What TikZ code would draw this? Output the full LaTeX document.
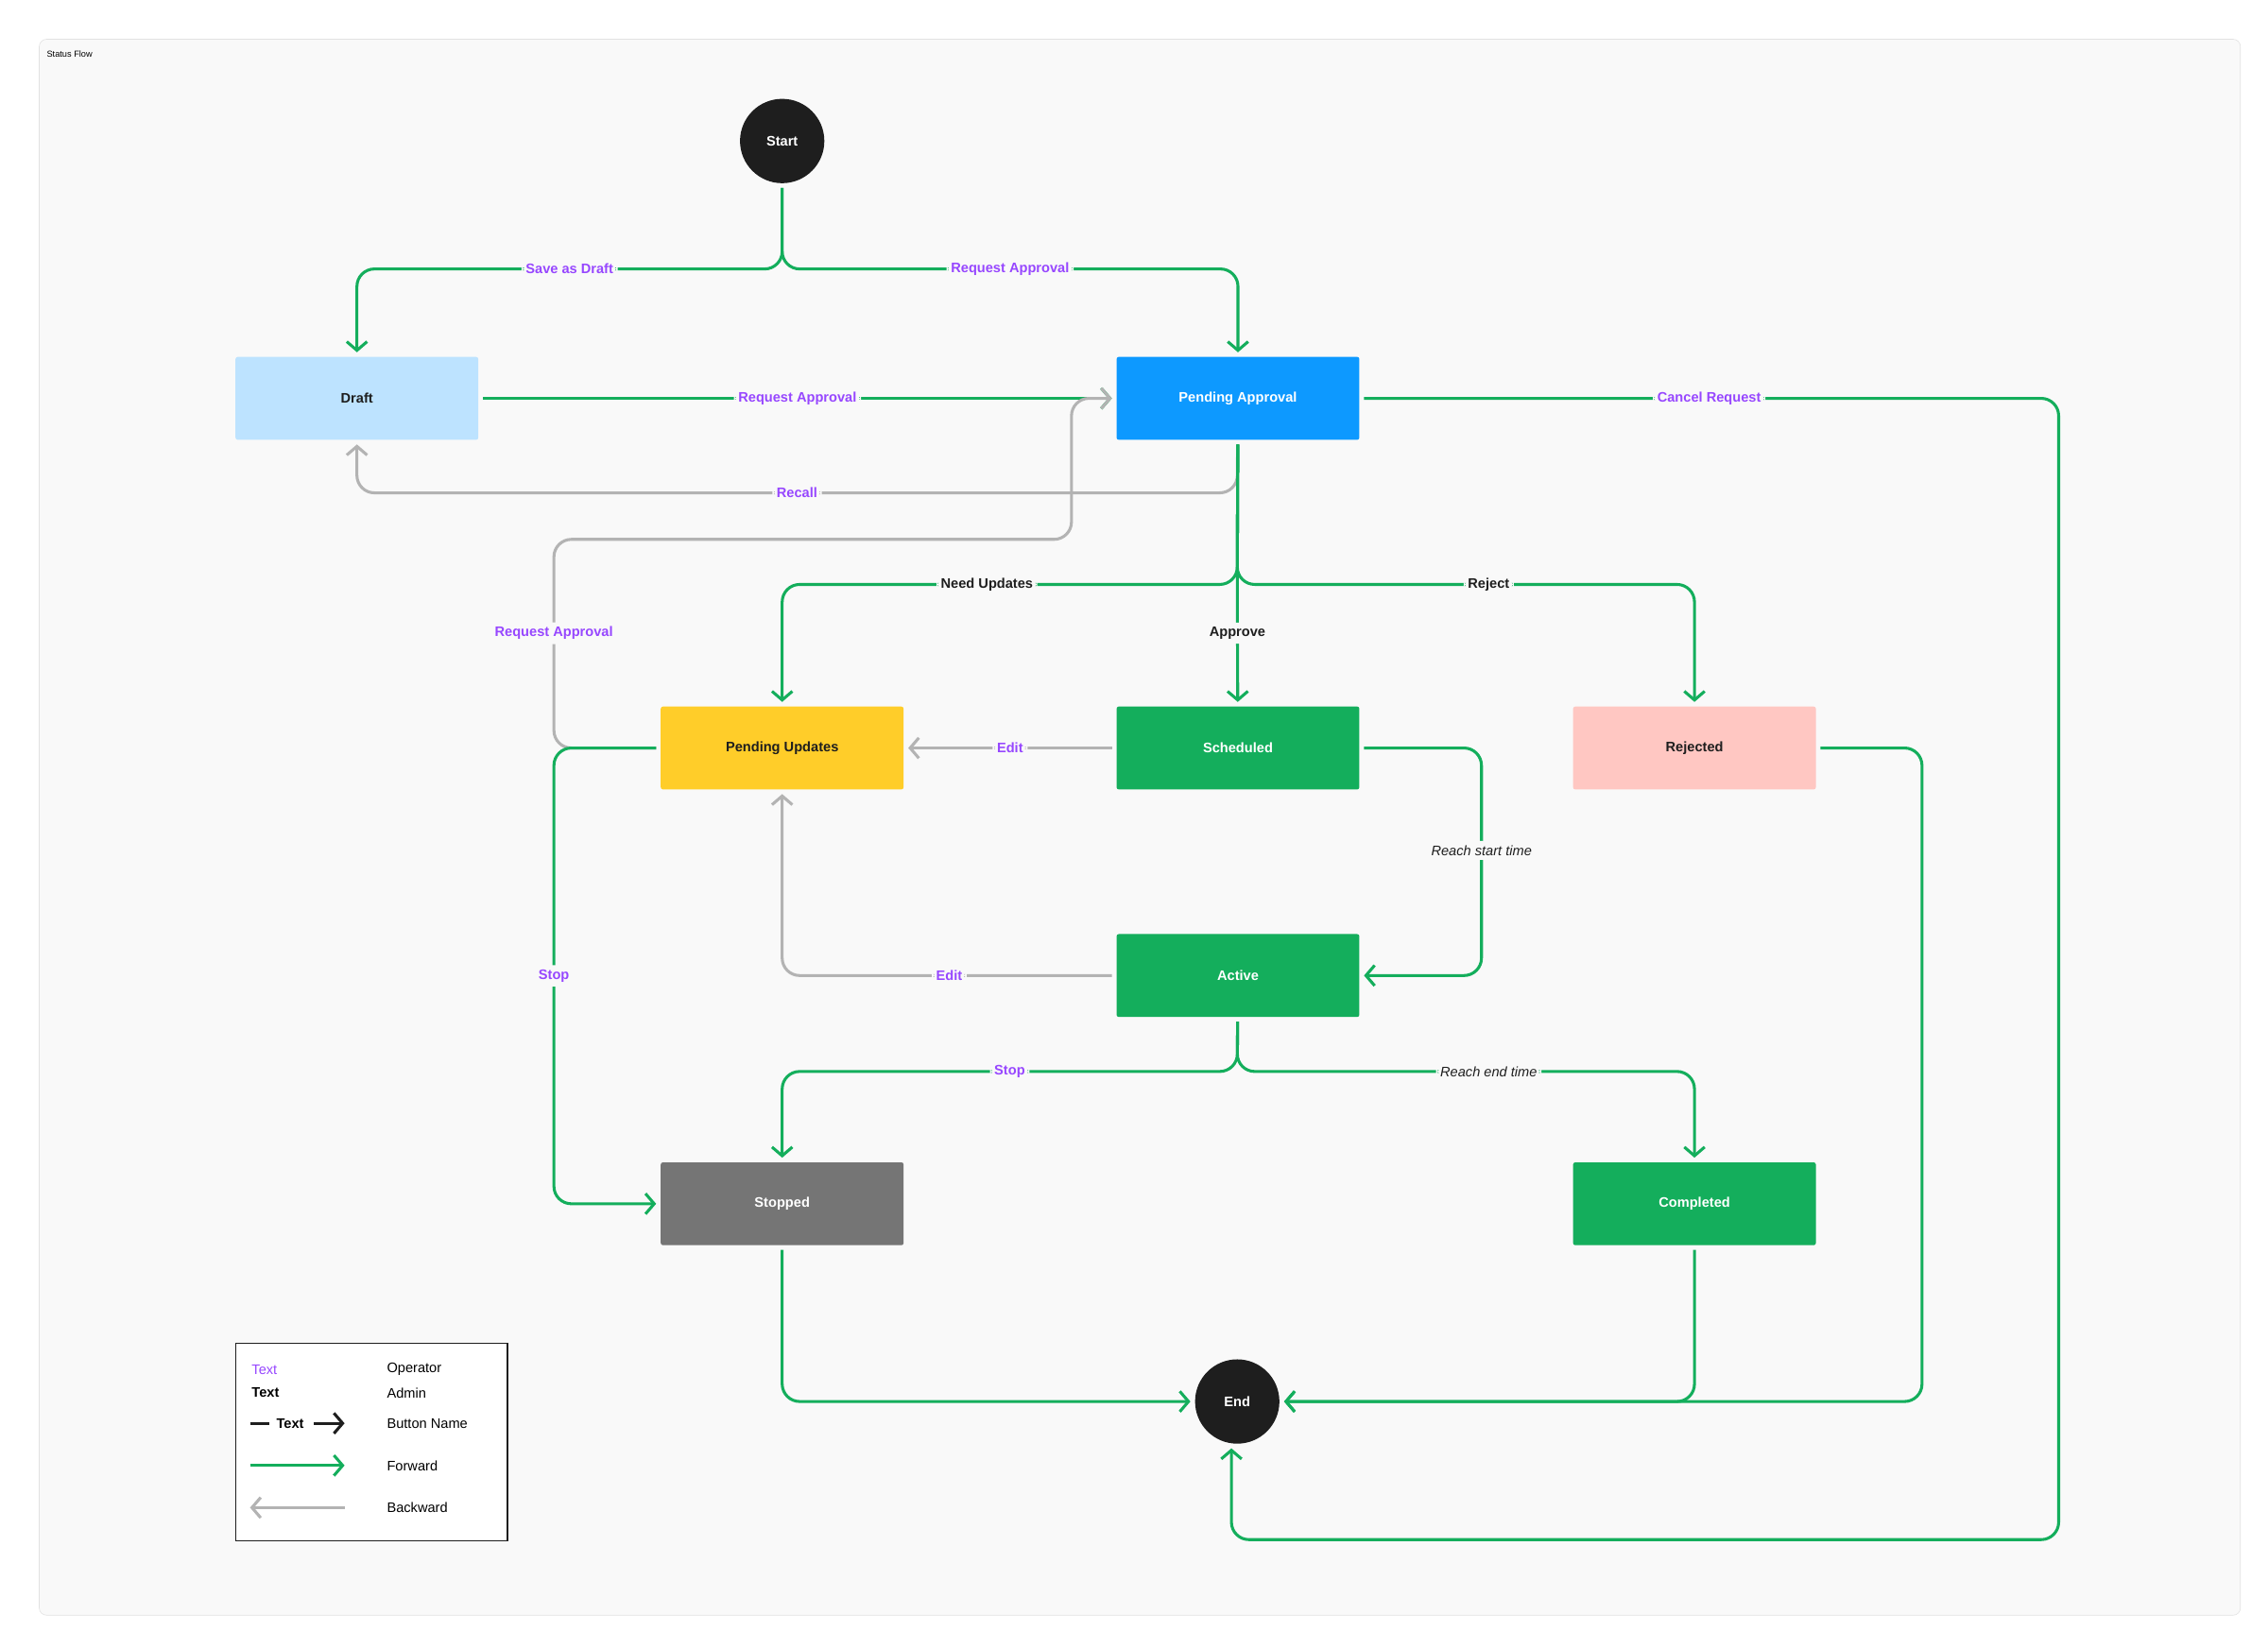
\documentclass[tikz,border=0pt]{standalone}
\usepackage{fontspec}
\setmainfont{Liberation Sans}
\usetikzlibrary{arrows.meta}
\usetikzlibrary{positioning}
\definecolor{bg}{HTML}{F9F9F9}
\definecolor{frm}{HTML}{E2E2E2}
\definecolor{dark}{HTML}{1E1E1E}
\definecolor{fgreen}{HTML}{14AE5C}
\definecolor{lgray}{HTML}{B3B3B3}
\definecolor{opcol}{HTML}{9747FF}
\definecolor{draftcol}{HTML}{BDE3FF}
\definecolor{pacol}{HTML}{0D99FF}
\definecolor{pucol}{HTML}{FFCD29}
\definecolor{rejcol}{HTML}{FFC7C2}
\definecolor{stpcol}{HTML}{757575}
\tikzstyle{box}=[rectangle,inner sep=0pt,minimum width=167pt,minimum height=57pt,rounded corners=1.5pt,font=\bfseries\fontsize{9.5}{11}\selectfont]
\tikzstyle{term}=[circle,fill=dark,text=white,inner sep=0pt,minimum size=58pt,font=\bfseries\fontsize{9.5}{11}\selectfont]
\tikzstyle{fwd}=[draw=fgreen,line width=2pt,rounded corners=12pt,shorten >=3pt,shorten <=3pt,-{Straight Barb[length=6pt,width=14pt,line width=2pt]}]
\tikzstyle{bwd}=[fwd,draw=lgray]
\tikzstyle{op}=[fill=bg,text=opcol,inner sep=3pt,font=\bfseries\fontsize{9.5}{11}\selectfont]
\tikzstyle{adm}=[op,text=dark]
\tikzstyle{evt}=[fill=bg,text=dark,inner sep=3pt,font=\itshape\fontsize{9.5}{11}\selectfont]
\tikzstyle{leg}=[anchor=west,inner sep=0pt,font=\fontsize{9.5}{11}\selectfont]

\begin{document}
\begin{tikzpicture}[x=1pt,y=-1pt]
\useasboundingbox (0,0) rectangle (1560,1134);
\draw[draw=frm,fill=bg,rounded corners=5pt] (27,27) rectangle (1541,1111);
\node[anchor=west,inner sep=0pt,font=\fontsize{6}{7}\selectfont] (title) at (32,37) {Status Flow};

\node[term] (start) at (538,97) {Start};
\node[box,fill=draftcol,text=dark] (draft) at (245.5,274) {Draft};
\node[box,fill=pacol,text=white] (pa) at (851.5,274) {Pending Approval};
\node[box,fill=pucol,text=dark] (pu) at (538,514.5) {Pending Updates};
\node[box,fill=fgreen,text=white] (sch) at (851.5,514.5) {Scheduled};
\node[box,fill=rejcol,text=dark] (rej) at (1165.5,514.5) {Rejected};
\node[box,fill=fgreen,text=white] (act) at (851.5,671) {Active};
\node[box,fill=stpcol,text=white] (stp) at (538,828) {Stopped};
\node[box,fill=fgreen,text=white] (cmp) at (1165.5,828) {Completed};
\node[term] (end) at (851,964) {End};

\coordinate (sp) at (538,185);
\coordinate (rc) at (851,339);
\coordinate (cr) at (1416,1059);
\coordinate (ce) at (847,1059);
\coordinate (br) at (851,402);
\coordinate (ra) at (381,371);
\coordinate (rb) at (737,371);
\coordinate (rs) at (1019,0);
\coordinate (ab) at (851,737);
\coordinate (rx) at (1322,0);

\draw[fwd] (start) -- (sp) -- node[op] {Save as Draft} (sp-|draft) -- (draft);
\draw[fwd] (start) -- (sp) -- node[op] {Request Approval} (sp-|pa) -- (pa);
\draw[fwd] (draft) -- node[op] {Request Approval} (pa);
\draw[bwd] (pa) -- (rc) -- node[op] {Recall} (rc-|draft) -- (draft);
\draw[fwd] (pa) -- node[op] {Cancel Request} (pa-|cr) -- (cr) -- (ce) -- (ce|-end.south);

\draw[fwd] (pa) -- (br) -- node[adm,pos=0.55] {Need Updates} (br-|pu) -- (pu);
\draw[fwd] (pa) -- (br) -- node[adm,pos=0.55] {Reject} (br-|rej) -- (rej);
\draw[fwd] (pa) -- (br) -- node[adm,pos=0.4] {Approve} (sch);

\draw[bwd] (pu.west) -- (pu.west-|ra) -- node[op,pos=0.55] {Request Approval} (ra) -- (rb) -- (rb|-pa) -- (pa);
\draw[fwd] (pu.west) -- (pu.west-|ra) -- node[op] {Stop} (ra|-stp) -- (stp);
\draw[bwd] (sch) -- node[op] {Edit} (pu);
\draw[fwd] (sch) -- (sch-|rs) -- node[evt,pos=0.45] {Reach start time} (act-|rs) -- (act);
\draw[bwd] (act) -- node[op] {Edit} (act-|pu) -- (pu);

\draw[fwd] (act) -- (ab) -- node[op] {Stop} (ab-|stp) -- (stp);
\draw[fwd] (act) -- (ab) -- node[evt,pos=0.55] {Reach end time} (ab-|cmp) -- (cmp);
\draw[fwd] (stp) |- (end);
\draw[fwd] (cmp) |- (end);
\draw[fwd] (rej) -- (rej-|rx) -- (rx|-end) -- (end);

% legend
\node[draw=dark,fill=white,line width=0.8pt,inner sep=0pt,minimum width=187pt,minimum height=136pt] (legend) at (255.5,992) {};
\node[leg,text=opcol] (l1) at (173,942) {Text};
\node[leg] (l1r) at (266,942) {Operator};
\node[leg,font=\bfseries\fontsize{9.5}{11}\selectfont] (l2) at (173,958) {Text};
\node[leg] (l2r) at (266,958) {Admin};
\coordinate (b1) at (172,979);
\coordinate (b2) at (185,979);
\node[leg,font=\bfseries\fontsize{9.5}{11}\selectfont] (l3) at (190,979) {Text};
\coordinate (b3) at (216,979);
\coordinate (b4) at (237,979);
\draw[dark,line width=2pt] (b1) -- (b2);
\draw[dark,line width=2pt,-{Straight Barb[length=6pt,width=14pt,line width=2pt]}] (b3) -- (b4);
\node[leg] (l3r) at (266,979) {Button Name};
\coordinate (f1) at (172,1008);
\coordinate (f2) at (237,1008);
\draw[fgreen,line width=2pt,-{Straight Barb[length=6pt,width=14pt,line width=2pt]}] (f1) -- (f2);
\node[leg] (l4r) at (266,1008) {Forward};
\coordinate (g1) at (237,1037);
\coordinate (g2) at (172,1037);
\draw[lgray,line width=2pt,-{Straight Barb[length=6pt,width=14pt,line width=2pt]}] (g1) -- (g2);
\node[leg] (l5r) at (266,1037) {Backward};
\end{tikzpicture}
\end{document}
